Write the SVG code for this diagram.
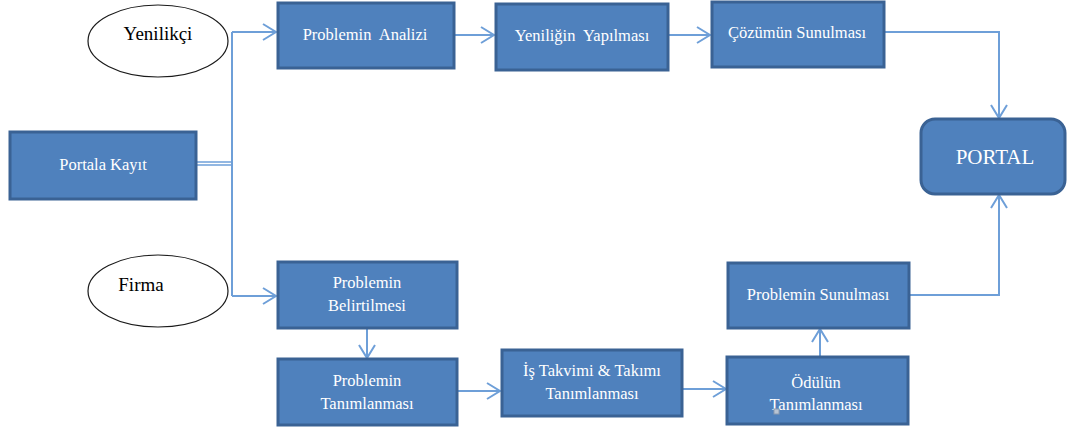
<svg xmlns="http://www.w3.org/2000/svg" width="1073" height="431" viewBox="0 0 1073 431">
  <style>
    .box { fill: #4F81BD; stroke: #3A6294; stroke-width: 3; }
    .oval { fill: #FFFFFF; stroke: #1A1A1A; stroke-width: 1.2; }
    text { font-family: "Liberation Serif", "DejaVu Serif", serif; }
    .lbl { font-size: 16.5px; fill: #FFFFFF; text-anchor: middle; }
    .actor { font-size: 19px; fill: #000000; text-anchor: middle; }
    .big { font-size: 21px; fill: #FFFFFF; text-anchor: middle; }
    .link { fill: none; stroke: #6E9FD8; stroke-width: 2; }
    .thin { fill: none; stroke: #6E9FD8; stroke-width: 1.5; }
  </style>
  <defs>
    <marker id="chev" markerUnits="userSpaceOnUse" markerWidth="16" markerHeight="20" viewBox="0 0 16 20" refX="14" refY="10" orient="auto">
      <path d="M1,2 L14,10 L1,18" fill="none" stroke="#6E9FD8" stroke-width="2"/>
    </marker>
  </defs>

  <rect width="1073" height="431" fill="#FFFFFF"/>

  <!-- connectors -->
  <g id="connectors">
    <path class="thin" d="M196,162 H232"/>
    <path class="thin" d="M196,165 H232"/>
    <path class="link" d="M232,32 V296"/>
    <path class="link" d="M232,32 H276" marker-end="url(#chev)"/>
    <path class="link" d="M232,296 H276" marker-end="url(#chev)"/>
    <path class="link" d="M454,35 H494" marker-end="url(#chev)"/>
    <path class="link" d="M668,35 H710" marker-end="url(#chev)"/>
    <path class="link" d="M884,32 H999 V118" marker-end="url(#chev)"/>
    <path class="link" d="M909,295 H999 V195" marker-end="url(#chev)"/>
    <path class="link" d="M367,328 V358" marker-end="url(#chev)"/>
    <path class="link" d="M457,391 H500" marker-end="url(#chev)"/>
    <path class="link" d="M682,389 H726" marker-end="url(#chev)"/>
    <path class="link" d="M820,356 V329" marker-end="url(#chev)"/>
  </g>

  <g id="yenilikci">
    <ellipse class="oval" cx="158" cy="41" rx="70" ry="36"/>
    <text class="actor" x="158" y="40">Yenilikçi</text>
  </g>

  <g id="firma">
    <ellipse class="oval" cx="158" cy="291" rx="70" ry="36"/>
    <text class="actor" x="141" y="291">Firma</text>
  </g>

  <g id="portala-kayit">
    <rect class="box" x="10" y="132" width="186" height="67"/>
    <text class="lbl" x="103" y="170">Portala Kayıt</text>
  </g>

  <g id="problemin-analizi">
    <rect class="box" x="278" y="3" width="176" height="65"/>
    <text class="lbl" x="365" y="40" xml:space="preserve">Problemin  Analizi</text>
  </g>

  <g id="yeniligin-yapilmasi">
    <rect class="box" x="496" y="4" width="172" height="66"/>
    <text class="lbl" x="582" y="41" xml:space="preserve">Yeniliğin  Yapılması</text>
  </g>

  <g id="cozumun-sunulmasi">
    <rect class="box" x="712" y="2" width="172" height="65"/>
    <text class="lbl" x="797" y="38">Çözümün Sunulması</text>
  </g>

  <g id="portal">
    <rect class="box" x="921" y="119" width="144" height="75" rx="14" ry="14"/>
    <text class="big" x="995" y="164">PORTAL</text>
  </g>

  <g id="problemin-belirtilmesi">
    <rect class="box" x="278" y="262" width="179" height="66"/>
    <text class="lbl" x="367" y="288">Problemin</text>
    <text class="lbl" x="367" y="311">Belirtilmesi</text>
  </g>

  <g id="problemin-tanimlanmasi">
    <rect class="box" x="278" y="359" width="179" height="66"/>
    <text class="lbl" x="367" y="386">Problemin</text>
    <text class="lbl" x="367" y="409">Tanımlanması</text>
  </g>

  <g id="is-takvimi">
    <rect class="box" x="502" y="350" width="180" height="66"/>
    <text class="lbl" x="592" y="376">İş Takvimi &amp; Takımı</text>
    <text class="lbl" x="592" y="399">Tanımlanması</text>
  </g>

  <g id="odulun-tanimlanmasi">
    <rect class="box" x="727" y="357" width="181" height="67"/>
    <text class="lbl" x="816" y="388">Ödülün</text>
    <text class="lbl" x="816" y="410">Tanımlanması</text>
    <rect x="774" y="409" width="5" height="5" fill="#B8C4D4" stroke="#8A9AB0" stroke-width="1"/>
  </g>

  <g id="problemin-sunulmasi">
    <rect class="box" x="728" y="263" width="181" height="65"/>
    <text class="lbl" x="818" y="300">Problemin Sunulması</text>
  </g>
</svg>
